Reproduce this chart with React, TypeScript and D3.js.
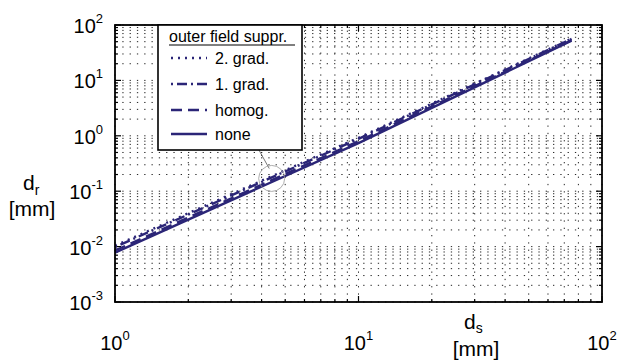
import React from "react";
import * as d3 from "d3";

// values (log-log)
const dsValues = [1, 10, 75];
const noneValues = [0.0078, 0.74, 52];
const homogValues = [0.0085, 0.8, 53];
const grad1Values = [0.0098, 0.88, 56];
const grad2Values = [0.0104, 0.92, 57];

const seriesNames = ["2. grad.", "1. grad.", "homog.", "none"];
const seriesDash = ["2,5", "2,4,10,4", "11,6", ""];
const xTickExps = [0, 1, 2];
const yTickExps = [-3, -2, -1, 0, 1, 2];

const W = 628;
const H = 363;
const margin = { left: 115, right: 26, top: 25, bottom: 61 };
const ink = "#2b2577";
const font = "'Liberation Sans', Arial, Helvetica, sans-serif";

export default function App() {
  const x = d3
    .scaleLog()
    .domain([1, 100])
    .range([margin.left, W - margin.right]);
  const y = d3
    .scaleLog()
    .domain([0.001, 100])
    .range([H - margin.bottom, margin.top]);

  const series = [grad2Values, grad1Values, homogValues, noneValues];
  const line = d3
    .line<[number, number]>()
    .x((d) => x(d[0]))
    .y((d) => y(d[1]));

  const xMinor: number[] = [];
  for (let e = 0; e < 2; e++)
    for (let m = 2; m < 10; m++) xMinor.push(m * Math.pow(10, e));
  const yMinor: number[] = [];
  for (let e = -3; e < 2; e++)
    for (let m = 2; m < 10; m++) yMinor.push(m * Math.pow(10, e));
  const xMajor = xTickExps.map((e) => Math.pow(10, e));
  const yMajor = yTickExps.map((e) => Math.pow(10, e));

  const [x0, x1] = x.range();
  const [y0, y1] = y.range();

  // legend box
  const lg = { x: 158, y: 25, w: 144, h: 125 };
  const rowY = [58, 84, 110, 134];

  return (
    <svg
      width={W}
      height={H}
      style={{ position: "absolute", left: 0, top: 0 }}
      fontFamily={font}
    >
      <rect width={W} height={H} fill="white" />
      {/* grid */}
      <g stroke="#000" strokeWidth={1} strokeDasharray="1.3,6" opacity={0.85}>
        {[...xMajor, ...xMinor].map((v, i) => (
          <line key={"gx" + i} x1={x(v)} x2={x(v)} y1={y0} y2={y1} />
        ))}
        {[...yMajor, ...yMinor].map((v, i) => (
          <line key={"gy" + i} x1={x0} x2={x1} y1={y(v)} y2={y(v)} />
        ))}
      </g>
      {/* ticks on all sides */}
      <g stroke="#000" strokeWidth={1.2}>
        {xMajor.map((v, i) => (
          <g key={"tx" + i}>
            <line x1={x(v)} x2={x(v)} y1={y0} y2={y0 - 6} />
            <line x1={x(v)} x2={x(v)} y1={y1} y2={y1 + 6} />
          </g>
        ))}
        {xMinor.map((v, i) => (
          <g key={"tmx" + i}>
            <line x1={x(v)} x2={x(v)} y1={y0} y2={y0 - 3} />
            <line x1={x(v)} x2={x(v)} y1={y1} y2={y1 + 3} />
          </g>
        ))}
        {yMajor.map((v, i) => (
          <g key={"ty" + i}>
            <line x1={x0} x2={x0 + 6} y1={y(v)} y2={y(v)} />
            <line x1={x1} x2={x1 - 6} y1={y(v)} y2={y(v)} />
          </g>
        ))}
        {yMinor.map((v, i) => (
          <g key={"tmy" + i}>
            <line x1={x0} x2={x0 + 3} y1={y(v)} y2={y(v)} />
            <line x1={x1} x2={x1 - 3} y1={y(v)} y2={y(v)} />
          </g>
        ))}
      </g>
      {/* series */}
      {series.map((vals, i) => (
        <path
          key={"s" + i}
          d={line(dsValues.map((d, j) => [d, vals[j]] as [number, number])) || ""}
          fill="none"
          stroke={ink}
          strokeWidth={2.4}
          strokeDasharray={seriesDash[i]}
        />
      ))}
      {/* annotation circle */}
      <line
        x1={x(3.9)}
        y1={lg.y + lg.h}
        x2={x(4.3)}
        y2={y(0.2) - 6}
        stroke="#555"
        strokeWidth={0.8}
      />
      <circle cx={x(4.4)} cy={y(0.17)} r={13} fill="none" stroke="#999" strokeWidth={0.8} />
      {/* axes box */}
      <rect
        x={x0}
        y={y1}
        width={x1 - x0}
        height={y0 - y1}
        fill="none"
        stroke="#000"
        strokeWidth={1.8}
      />
      {/* tick labels */}
      <g fontSize={20} fill="#000">
        {yTickExps.map((e, i) => (
          <text key={"ly" + i} x={x0 - 12} y={y(Math.pow(10, e)) + 8} textAnchor="end">
            10<tspan dy={-10} fontSize={13}>{e}</tspan>
          </text>
        ))}
        {xTickExps.map((e, i) => (
          <text key={"lx" + i} x={x(Math.pow(10, e))} y={y0 + 48} textAnchor="middle">
            10<tspan dy={-10} fontSize={13}>{e}</tspan>
          </text>
        ))}
      </g>
      {/* axis labels */}
      <g fontSize={21} fill="#000">
        <text x={23} y={190}>
          d<tspan dy={5} fontSize={14}>r</tspan>
        </text>
        <text x={32} y={216} textAnchor="middle">[mm]</text>
        <text x={464} y={329}>
          d<tspan dy={4} fontSize={14}>s</tspan>
        </text>
        <text x={476} y={356} textAnchor="middle">[mm]</text>
      </g>
      {/* legend */}
      <rect x={lg.x} y={lg.y} width={lg.w} height={lg.h} fill="white" stroke="#000" strokeWidth={1.6} />
      <text x={169} y={42} fontSize={16} fill="#000">outer field suppr.</text>
      <line x1={169} x2={295} y1={45} y2={45} stroke="#000" strokeWidth={1.2} />
      {seriesNames.map((name, i) => (
        <g key={"lg" + i}>
          <line
            x1={171}
            x2={207}
            y1={rowY[i]}
            y2={rowY[i]}
            stroke={ink}
            strokeWidth={2.4}
            strokeDasharray={seriesDash[i]}
          />
          <text x={215} y={rowY[i] + 6} fontSize={16} fill="#000">
            {name}
          </text>
        </g>
      ))}
    </svg>
  );
}
